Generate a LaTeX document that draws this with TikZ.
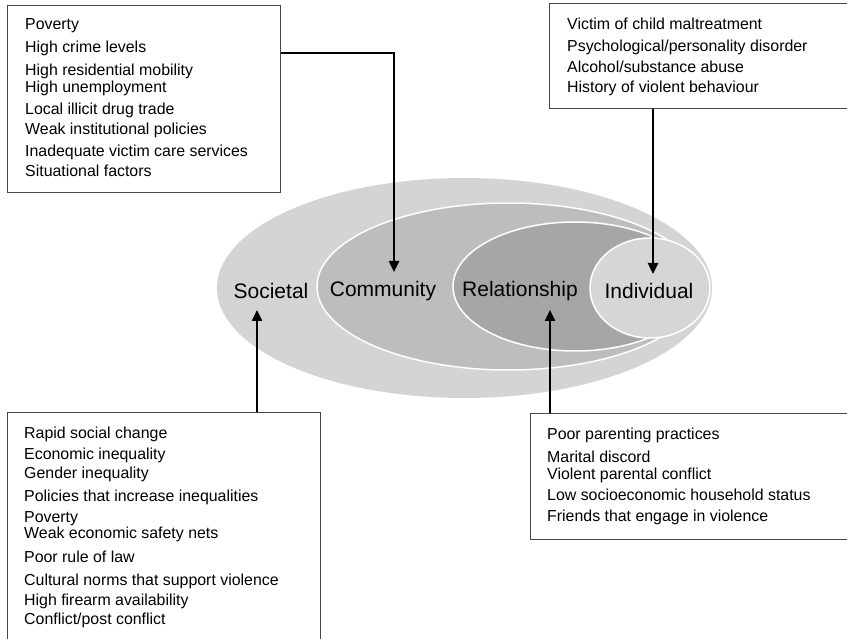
\documentclass[tikz,border=0pt]{standalone}
\usepackage{fontspec}
\setmainfont{Liberation Sans}
\usetikzlibrary{arrows.meta,shapes.geometric}
\begin{document}
\begin{tikzpicture}[x=1pt,y=-1pt,
  box/.style={draw=black!72, line width=1.2pt, fill=white, inner sep=0pt, anchor=north west, rectangle},
  item/.style={anchor=base west, inner sep=0pt, font=\fontsize{15.9}{18}\selectfont},
  lab/.style={font=\fontsize{21}{24}\selectfont, inner sep=0pt},
  conn/.style={line width=2.4pt, black},
  arr/.style={conn, -{Triangle[length=11pt,width=10pt]}},
  ring/.style={ellipse, inner sep=0pt, draw=white, line width=1.5pt}]
\useasboundingbox (0,0) rectangle (847,639);
\fill[white] (0,0) rectangle (847,639);
% ellipses
\node[ellipse, inner sep=0pt, fill=black!17, minimum width=495pt, minimum height=220pt] (soc) at (464.5,288) {};
\node[ring, fill=black!26, minimum width=383pt, minimum height=167pt] (com) at (508.5,286.5) {};
\node[ring, fill=black!35, minimum width=244pt, minimum height=129pt] (rel) at (575,286.5) {};
\node[ring, fill=black!16, minimum width=120pt, minimum height=100pt] (ind) at (650,288) {};
% labels
\node[lab] (lsoc) at (271,291) {Societal};
\node[lab] (lcom) at (383,291) {Community};
\node[lab] (lrel) at (520,291) {Relationship};
\node[lab] (lind) at (649,291) {Individual};
% boxes
\node[box, minimum width=273pt, minimum height=187pt] (tlbox) at (7,5) {};
\node[box, minimum width=300pt, minimum height=105pt] (trbox) at (549,3) {};
\node[box, minimum width=313pt, minimum height=240pt] (blbox) at (7,412) {};
\node[box, minimum width=320pt, minimum height=126pt] (brbox) at (530,413) {};
% texts
\foreach \y/\t [count=\i] in {30/{Poverty}, 53/{High crime levels}, 76/{High residential mobility}, 93/{High unemployment}, 115/{Local illicit drug trade}, 135/{Weak institutional policies}, 157/{Inadequate victim care services}, 177/{Situational factors}}
  \node[item] (tl\i) at (25,\y) {\t};
\foreach \y/\t [count=\i] in {30/{Victim of child maltreatment}, 52/{Psychological/personality disorder}, 73/{Alcohol/substance abuse}, 93/{History of violent behaviour}}
  \node[item] (tr\i) at (567,\y) {\t};
\foreach \y/\t [count=\i] in {438/{Rapid social change}, 459/{Economic inequality}, 478/{Gender inequality}, 501/{Policies that increase inequalities}, 522/{Poverty}, 538/{Weak economic safety nets}, 562/{Poor rule of law}, 585/{Cultural norms that support violence}, 605/{High firearm availability}, 624/{Conflict/post conflict}}
  \node[item] (bl\i) at (24,\y) {\t};
\foreach \y/\t [count=\i] in {439/{Poor parenting practices}, 462/{Marital discord}, 479/{Violent parental conflict}, 500/{Low socioeconomic household status}, 521/{Friends that engage in violence}}
  \node[item] (br\i) at (547,\y) {\t};
% arrow tips
\coordinate (ctip) at (394,272);
\coordinate (itip) at (653,274);
\coordinate (stip) at (257,310);
\coordinate (rtip) at (550,310);
% connectors
\draw[arr] ([yshift=-48pt]tlbox.north east) -| (ctip);
\draw[arr] (trbox.south -| itip) -- (itip);
\draw[arr] (blbox.north -| stip) -- (stip);
\draw[arr] (brbox.north -| rtip) -- (rtip);
\end{tikzpicture}
\end{document}
